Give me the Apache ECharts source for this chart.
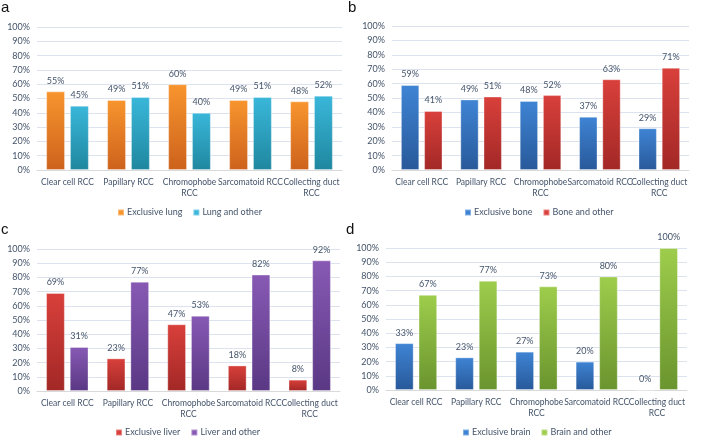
<!DOCTYPE html>
<html><head><meta charset="utf-8">
<script src="https://cdn.jsdelivr.net/npm/echarts@6/dist/echarts.min.js"></script>
<style>html,body{margin:0;padding:0;background:#fff}#c{width:709px;height:446px}</style>
</head><body><div id="c"></div>
<script>
const categories = ["Clear cell RCC", "Papillary RCC", "Chromophobe\nRCC", "Sarcomatoid RCC", "Collecting duct\nRCC"];
const yTicks = [0, 10, 20, 30, 40, 50, 60, 70, 80, 90, 100];
const lungNames = ["Exclusive lung", "Lung and other"];
const lungExclusive = [55, 49, 60, 49, 48];
const lungOther = [45, 51, 40, 51, 52];
const boneNames = ["Exclusive bone", "Bone and other"];
const boneExclusive = [59, 49, 48, 37, 29];
const boneOther = [41, 51, 52, 63, 71];
const liverNames = ["Exclusive liver", "Liver and other"];
const liverExclusive = [69, 23, 47, 18, 8];
const liverOther = [31, 77, 53, 82, 92];
const brainNames = ["Exclusive brain", "Brain and other"];
const brainExclusive = [33, 23, 27, 20, 0];
const brainOther = [67, 77, 73, 80, 100];
const panelLetters = ["a", "b", "c", "d"];

const FONT = "Lato, sans-serif";
const TXT = "#44546A";
const grids = [
  {left: 37, right: 367, top: 27, bottom: 276},
  {left: 392, right: 20, top: 26, bottom: 276},
  {left: 37, right: 369, top: 249, bottom: 55},
  {left: 386, right: 22, top: 248, bottom: 56}
];
const panels = [
  {names: lungNames, data: [lungExclusive, lungOther], colors: [["#F8952E", "#CD621C"], ["#3AB7DA", "#1F879F"]], legendLeft: 117, legendTop: 208},
  {names: boneNames, data: [boneExclusive, boneOther], colors: [["#3F84D4", "#28599A"], ["#D9403B", "#A22826"]], legendLeft: 464, legendTop: 208},
  {names: liverNames, data: [liverExclusive, liverOther], colors: [["#D9403B", "#A22826"], ["#8759B4", "#5A3884"]], legendLeft: 115, legendTop: 428},
  {names: brainNames, data: [brainExclusive, brainOther], colors: [["#3F84D4", "#28599A"], ["#9ECD4C", "#6A942E"]], legendLeft: 462, legendTop: 428}
];
const grad = (c) => new echarts.graphic.LinearGradient(0, 0, 0, 1, [{offset: 0, color: c[0]}, {offset: 1, color: c[1]}]);

const option = {
  animation: false,
  grid: grids,
  xAxis: grids.map((g, i) => ({
    type: 'category', gridIndex: i, data: categories,
    axisTick: {show: false},
    axisLine: {lineStyle: {color: '#D9D9D9'}},
    axisLabel: {interval: 0, color: TXT, fontFamily: FONT, fontSize: 8.5, lineHeight: 11, margin: 7}
  })),
  yAxis: grids.map((g, i) => ({
    type: 'value', gridIndex: i, min: yTicks[0], max: yTicks[yTicks.length - 1], interval: 10,
    axisLine: {show: false}, axisTick: {show: false},
    splitLine: {lineStyle: {color: '#DCE3EE', width: 1}},
    axisLabel: {color: TXT, fontFamily: FONT, fontSize: 9, margin: 7, formatter: '{value}%'}
  })),
  legend: panels.map((p, i) => ({
    data: p.names.map((n, k) => ({name: n, itemStyle: {color: p.colors[k][0]}})),
    left: p.legendLeft, top: p.legendTop, orient: 'horizontal', padding: 0,
    itemWidth: 6, itemHeight: 6, itemGap: 10, icon: 'rect',
    textStyle: {color: TXT, fontFamily: FONT, fontSize: 9, padding: [0, 0, 0, -2]}
  })),
  graphic: panelLetters.map((l, i) => ({
    type: 'text', left: [1, 348, 1, 346][i], top: [0, 0, 222, 222][i],
    style: {text: l, font: "15px 'Liberation Sans', sans-serif", fill: '#111'}
  })),
  series: []
};
panels.forEach((p, i) => {
  p.data.forEach((d, k) => {
    option.series.push({
      type: 'bar', name: p.names[k], xAxisIndex: i, yAxisIndex: i, data: d,
      barWidth: '31%', barGap: '26%',
      itemStyle: {color: grad(p.colors[k]), borderColor: 'rgba(255,255,255,0.35)', borderWidth: 1},
      label: {show: true, position: 'top', distance: 6, formatter: '{c}%', color: TXT, fontFamily: FONT, fontSize: 9}
    });
  });
});
const chart = echarts.init(document.getElementById('c'), null, {renderer: 'canvas'});
chart.setOption(option);
</script></body></html>
